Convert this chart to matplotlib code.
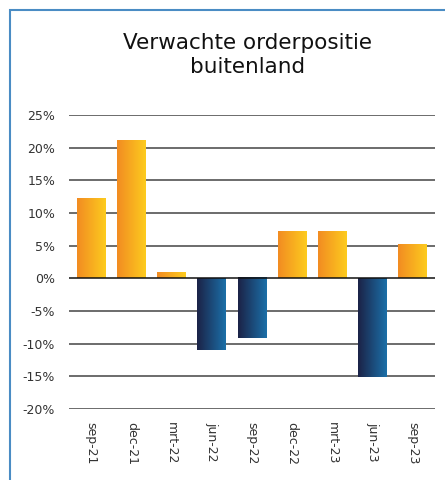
import numpy as np
import matplotlib
matplotlib.use("Agg")
from matplotlib import pyplot as plt
from matplotlib.colors import LinearSegmentedColormap
from matplotlib.patches import Rectangle

# data
labels = ["sep-21", "dec-21", "mrt-22", "jun-22", "sep-22", "dec-22", "mrt-23", "jun-23", "sep-23"]
values = [12.1, 21.1, 0.9, -11.0, -9.2, 7.1, 7.1, -15.1, 5.2]
yticks = [-20, -15, -10, -5, 0, 5, 10, 15, 20, 25]

pos_cmap = LinearSegmentedColormap.from_list("pos", ["#F28C22", "#FDCB1E"])
neg_cmap = LinearSegmentedColormap.from_list("neg", ["#1B2347", "#1B6FA8"])

fig = plt.figure(figsize=(4.45, 4.8), dpi=100)
ax = fig.add_axes([69 / 445, 1 - 409 / 480, 366 / 445, 294 / 480])

x = np.arange(len(labels))
bars = ax.bar(x, values, width=0.72, color="none", zorder=3)

grad = np.linspace(0, 1, 64).reshape(1, -1)
for b, v in zip(bars, values):
    x0 = b.get_x()
    x1 = x0 + b.get_width()
    y0, y1 = sorted([0, v])
    ax.imshow(grad, cmap=pos_cmap if v >= 0 else neg_cmap, aspect="auto",
              extent=[x0, x1, y0, y1], zorder=3, interpolation="bilinear")

ax.set_xlim(-0.55, len(labels) - 0.45)
ax.set_ylim(-20, 25)
ax.set_yticks(yticks)
ax.set_yticklabels([f"{t}%" for t in yticks])
ax.set_xticks(x)
ax.set_xticklabels(labels, rotation=270)
ax.tick_params(axis="both", length=0, labelsize=9, colors="#333333")
ax.tick_params(axis="x", pad=9)
ax.tick_params(axis="y", pad=10)
for t in yticks:
    ax.axhline(t, color="#444444" if t != 0 else "#111111", lw=1.1, zorder=1 if t != 0 else 4)
for s in ax.spines.values():
    s.set_visible(False)

fig.text(0.557, 0.885, "Verwachte orderpositie\nbuitenland", ha="center", va="center",
         fontsize=15.5, color="#111111", linespacing=1.25)

fig.patches.append(Rectangle((10 / 445, -0.05), 1.0, 1 - 10 / 480 + 0.05,
                             transform=fig.transFigure, fill=False,
                             edgecolor="#4A8CC4", lw=1.5))

fig.savefig("out.png", dpi=100)
